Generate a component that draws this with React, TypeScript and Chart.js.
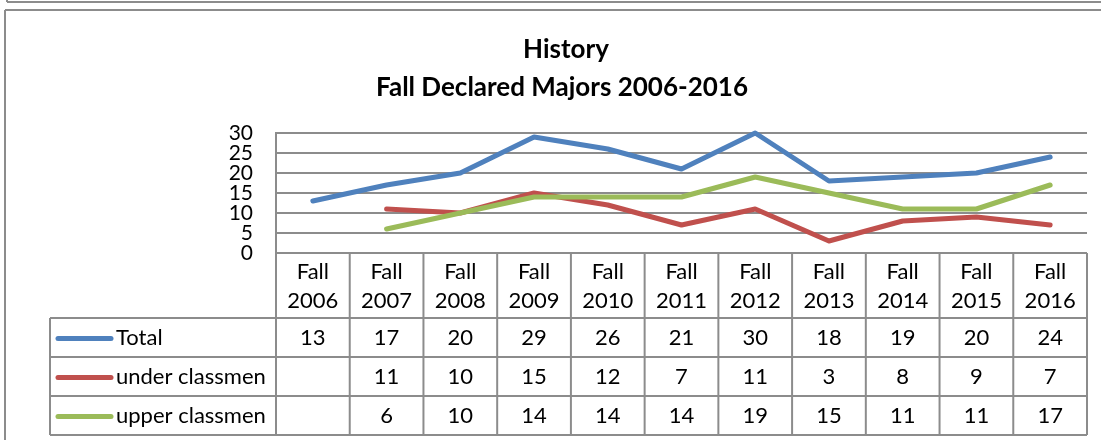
import React, { useEffect, useRef } from 'react';
import { Chart, registerables } from 'chart.js';

Chart.register(...registerables);

const categories = ['Fall 2006', 'Fall 2007', 'Fall 2008', 'Fall 2009', 'Fall 2010', 'Fall 2011', 'Fall 2012', 'Fall 2013', 'Fall 2014', 'Fall 2015', 'Fall 2016'];
const totalValues = [13, 17, 20, 29, 26, 21, 30, 18, 19, 20, 24];
const underValues = [null, 11, 10, 15, 12, 7, 11, 3, 8, 9, 7];
const upperValues = [null, 6, 10, 14, 14, 14, 19, 15, 11, 11, 17];
const seriesNames = ['Total', 'under classmen', 'upper classmen'];
const seriesColors = ['#4F81BD', '#C0504D', '#9BBB59'];
const yTickValues = [0, 5, 10, 15, 20, 25, 30];
const titleLines = ['History', 'Fall Declared Majors 2006-2016'];

const W = 1101;
const H = 440;
const FONT = 'Lato';
const GRID = '#8c8c8c';

const seriesValues = [totalValues, underValues, upperValues];

const tablePlugin = {
  id: 'excelTable',
  afterDraw(chart: any) {
    const ctx = chart.ctx as CanvasRenderingContext2D;
    const area = chart.chartArea;
    const xs = chart.scales.x;
    const n = categories.length;
    const colW = (area.right - area.left) / n;
    ctx.save();

    const line = (x1: number, y1: number, x2: number, y2: number) => {
      ctx.beginPath();
      ctx.moveTo(x1, y1);
      ctx.lineTo(x2, y2);
      ctx.stroke();
    };

    // frames
    ctx.strokeStyle = GRID;
    ctx.lineWidth = 2;
    line(7, 0, 7, 2);
    line(7, 2, W, 2);
    line(5, 10, W, 10);
    line(5, 10, 5, H);

    // title
    ctx.fillStyle = '#000';
    ctx.textAlign = 'center';
    ctx.textBaseline = 'alphabetic';
    ctx.font = `bold 26px ${FONT}`;
    ctx.fillText(titleLines[0], 566, 58);
    ctx.fillText(titleLines[1], 562, 96);

    // table geometry
    const headerTop = area.bottom;
    const headerBottom = headerTop + 65;
    const rowH = 39;
    const tableLeft = 50;
    const tableBottom = headerBottom + rowH * seriesNames.length;
    const bounds: number[] = [];
    for (let i = 0; i <= n; i++) {
      bounds.push(i === 0 ? area.left : i === n ? area.right : xs.getPixelForValue(i - 1) + colW / 2);
    }

    ctx.strokeStyle = GRID;
    ctx.lineWidth = 2;
    for (let r = 0; r <= seriesNames.length; r++) {
      const y = headerBottom + r * rowH;
      line(tableLeft, y, area.right, y);
    }
    for (let i = 0; i <= n; i++) {
      line(bounds[i], headerTop, bounds[i], tableBottom);
    }
    line(tableLeft, headerBottom, tableLeft, tableBottom);

    // header text
    ctx.font = `22px ${FONT}`;
    ctx.fillStyle = '#000';
    ctx.textAlign = 'center';
    ctx.textBaseline = 'middle';
    for (let i = 0; i < n; i++) {
      const cx = xs.getPixelForValue(i);
      const parts = categories[i].split(' ');
      ctx.fillText(parts[0], cx, headerTop + 19);
      ctx.fillText(parts[1], cx, headerTop + 47.5);
    }

    // rows
    for (let r = 0; r < seriesNames.length; r++) {
      const midY = headerBottom + r * rowH + rowH / 2;
      ctx.strokeStyle = seriesColors[r];
      ctx.lineWidth = 5;
      ctx.lineCap = 'round';
      line(tableLeft + 8, midY + 1, tableLeft + 61, midY + 1);
      ctx.fillStyle = '#000';
      ctx.textAlign = 'left';
      ctx.fillText(seriesNames[r], tableLeft + 66, midY);
      ctx.textAlign = 'center';
      const vals = seriesValues[r];
      for (let i = 0; i < n; i++) {
        const v = vals[i];
        if (v === null || v === undefined) continue;
        ctx.fillText(String(v), xs.getPixelForValue(i), midY);
      }
    }
    ctx.restore();
  },
};

export default function App() {
  const ref = useRef<HTMLCanvasElement>(null);
  useEffect(() => {
    if (!ref.current) return;
    const chart = new Chart(ref.current, {
      type: 'line',
      data: {
        labels: categories,
        datasets: seriesNames.map((name, i) => ({
          label: name,
          data: seriesValues[i],
          borderColor: seriesColors[i],
          backgroundColor: seriesColors[i],
          borderWidth: 5,
          pointRadius: 0,
          pointHoverRadius: 0,
          tension: 0,
          borderCapStyle: 'round',
          borderJoinStyle: 'round',
          spanGaps: false,
          clip: false,
          order: seriesNames.length - i,
        })) as any,
      },
      options: {
        responsive: false,
        animation: false,
        devicePixelRatio: 1,
        events: [],
        layout: { padding: { left: 0, top: 133, right: 14, bottom: 187 } },
        plugins: {
          legend: { display: false },
          title: { display: false },
          tooltip: { enabled: false },
        },
        scales: {
          x: {
            type: 'category',
            offset: true,
            display: false,
            grid: { display: false },
          },
          y: {
            min: 0,
            max: 30,
            afterFit: (scale: any) => {
              scale.width = 276;
            },
            afterBuildTicks: (scale: any) => {
              scale.ticks = yTickValues.map((v) => ({ value: v }));
            },
            ticks: {
              autoSkip: false,
              padding: 23,
              color: '#000',
              font: { family: FONT, size: 21, lineHeight: 1 },
            },
            grid: { color: GRID, lineWidth: 2, drawTicks: false },
            border: { display: true, color: GRID, width: 2 },
          },
        },
      },
      plugins: [tablePlugin],
    });
    return () => chart.destroy();
  }, []);
  return (
    <div style={{ position: 'fixed', left: 0, top: 0, width: W, height: H, background: '#fff' }}>
      <canvas ref={ref} width={W} height={H} style={{ display: 'block', width: W, height: H }} />
    </div>
  );
}
